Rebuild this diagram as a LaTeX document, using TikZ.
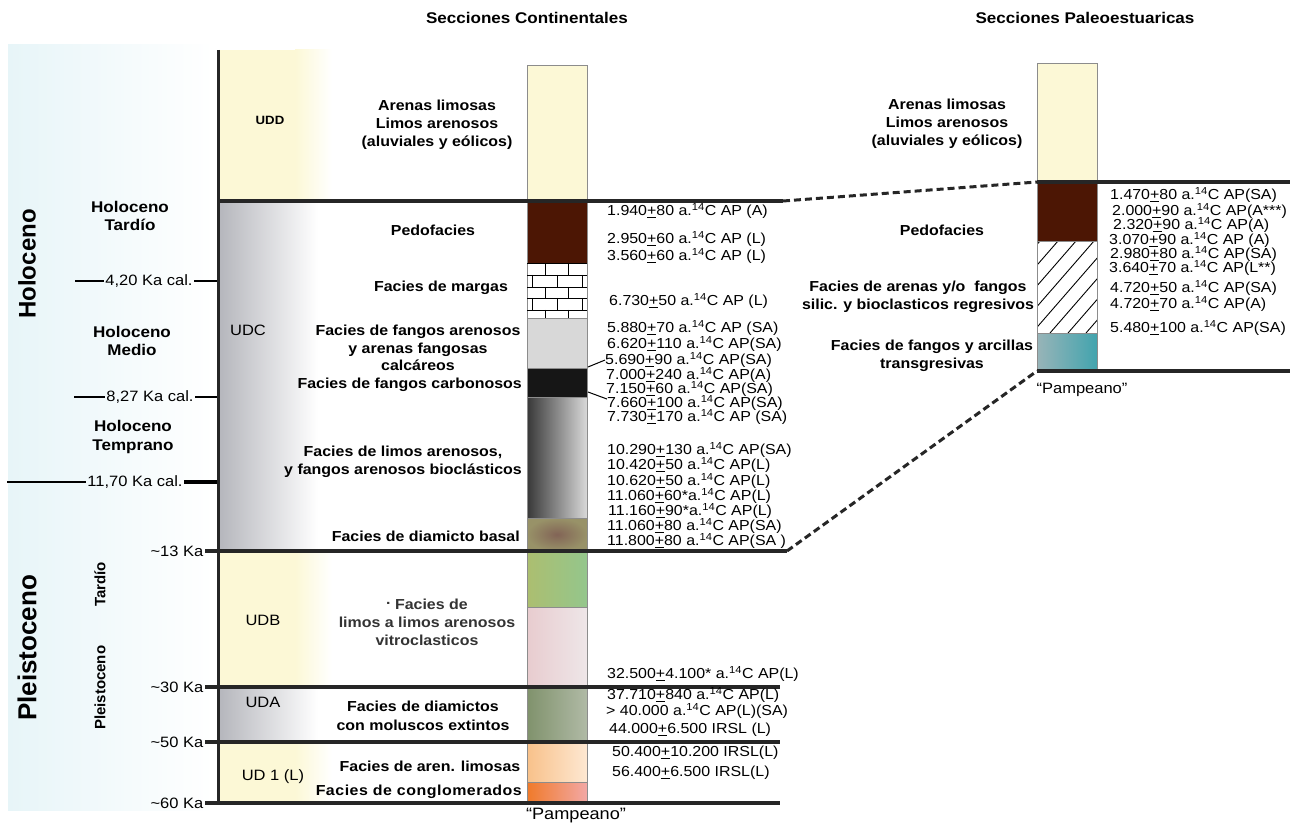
\documentclass[tikz,border=0pt]{standalone}
\usepackage{fontspec}
\setmainfont{Liberation Sans}[FakeStretch=1.1]
\newfontfamily\recta{Liberation Sans}
\usetikzlibrary{positioning, calc}

\definecolor{crema}{RGB}{252,248,214}
\definecolor{gris}{RGB}{182,183,189}
\definecolor{celeste}{RGB}{231,245,248}
\definecolor{pardo}{RGB}{76,22,4}
\definecolor{borde}{RGB}{140,140,140}
\definecolor{gclaro}{RGB}{216,216,216}
\definecolor{carbon}{RGB}{22,22,22}
\definecolor{oliva}{RGB}{152,146,104}
\definecolor{olivaC}{RGB}{130,100,86}
\definecolor{verdeA}{RGB}{172,190,112}
\definecolor{verdeB}{RGB}{148,198,140}
\definecolor{rosaA}{RGB}{232,204,207}
\definecolor{rosaB}{RGB}{238,230,232}
\definecolor{musgoA}{RGB}{128,146,108}
\definecolor{musgoB}{RGB}{176,186,166}
\definecolor{naranjaA}{RGB}{248,193,138}
\definecolor{naranjaB}{RGB}{254,232,210}
\definecolor{anaranA}{RGB}{240,122,42}
\definecolor{anaranB}{RGB}{242,168,165}
\definecolor{tealA}{RGB}{152,180,184}
\definecolor{tealB}{RGB}{66,164,174}

\newcommand{\pmu}{\underline{+}}
\newcommand{\ac}{a.\textsuperscript{14}C}

\tikzset{
  capa/.style={draw=borde, line width=0.8pt},
  ladrillo/.style={black, line width=0.9pt},
  limite/.style={line width=4pt, black!85},
  enlace/.style={line width=3pt, black!85, dash pattern=on 7pt off 4pt},
  facies/.style={font=\bfseries\fontsize{14.5}{18}\selectfont, align=center, inner sep=0pt},
  fecha/.style={font=\fontsize{14.5}{15}\selectfont, anchor=mid west, inner sep=0pt},
  edad/.style={font=\fontsize{15}{15}\selectfont, inner sep=1.5pt},
  periodo/.style={font=\bfseries\fontsize{15.5}{18.5}\selectfont, align=center, inner sep=0pt},
  unidad/.style={font=\fontsize{15}{15}\selectfont, inner sep=0pt},
  titulo/.style={font=\bfseries\fontsize{15.5}{16}\selectfont, inner sep=0pt},
}

\begin{document}
\begin{tikzpicture}[x=1pt, y=-1pt]
	\useasboundingbox (0,0) rectangle (1302,829);
	% background bands
	\shade[left color=celeste, right color=white] (8,45) rectangle (213,810);
	\foreach \ya/\yb in {50/201, 551/686, 741/803}{
		\fill[crema] (220,\ya) rectangle (295,\yb);
		\shade[left color=crema, right color=white] (295,\ya) rectangle (332,\yb);
	}
	\foreach \ya/\yb in {201/551, 686/741}{
		\shade[left color=gris, right color=white] (220,\ya) rectangle (318,\yb);
	}
	% continental column
	\draw[capa, fill=crema] (527,65) rectangle (587,201);
	\draw[capa, fill=pardo] (527,201) rectangle (587,263);
	\draw[capa, fill=white] (527,263) rectangle (587,318);
	\foreach \ya/\yb/\xs in {263/275/{545,568}, 275/287/{532,557,582}, 287/298/{545,568}, 298/310/{532,557,582}, 310/318/{545,568}}{
		\draw[ladrillo] (527,\yb) -- (587,\yb);
		\foreach \xv in \xs {\draw[ladrillo] (\xv,\ya) -- (\xv,\yb);}
	}
	\draw[ladrillo] (527,263) -- (587,263);
	\draw[capa, fill=gclaro] (527,318) rectangle (587,368);
	\draw[capa, fill=carbon] (527,368) rectangle (587,397);
	\draw[capa, left color=black!78, right color=black!15] (527,397) rectangle (587,518);
	\draw[capa, inner color=olivaC, outer color=oliva] (527,518) rectangle (587,551);
	\draw[capa, left color=verdeA, right color=verdeB] (527,551) rectangle (587,607);
	\draw[capa, left color=rosaA, right color=rosaB] (527,607) rectangle (587,686);
	\draw[capa, left color=musgoA, right color=musgoB] (527,686) rectangle (587,741);
	\draw[capa, left color=naranjaA, right color=naranjaB] (527,741) rectangle (587,782);
	\draw[capa, left color=anaranA, right color=anaranB] (527,782) rectangle (587,803);
	% paleoestuarine column
	\draw[capa, fill=crema] (1037,63) rectangle (1097,182);
	\draw[capa, fill=pardo] (1037,182) rectangle (1097,241);
	\begin{scope}
		\clip (1037,241) rectangle (1097,333);
		\foreach \xh in {960,978,...,1100}{
			\draw[black, line width=0.9pt] (\xh,333) -- ++(80,-92);
		}
	\end{scope}
	\draw[capa] (1037,241) rectangle (1097,333);
	\draw[capa, left color=tealA, right color=tealB] (1037,333) rectangle (1097,371);

	% titles
	\node[titulo] (tit1) at (527,18) {Secciones Continentales};
	\node[titulo] (tit2) at (1085,18) {Secciones Paleoestuaricas};

	% epochs
	\node[rotate=90, font=\recta\bfseries\fontsize{24}{24}\selectfont] (hol) at (27,264) {Holoceno};
	\node[rotate=90, font=\recta\bfseries\fontsize{26}{26}\selectfont] (ple) at (27,648) {Pleistoceno};
	\node[rotate=90, font=\recta\bfseries\fontsize{15}{15}\selectfont] (pleT) at (100,646) {Pleistoceno\hspace{39pt}Tardío};
	\node[periodo] (holT) at (130,216) {Holoceno\\Tardío};
	\node[periodo] (holM) at (132,341) {Holoceno\\Medio};
	\node[periodo] (holE) at (133,437) {Holoceno\\Temprano};

	% age ticks
	\node[edad] (k420) at (149,281) {4,20 Ka cal.};
	\node[edad] (k827) at (150,397) {8,27 Ka cal.};
	\node[edad] (k1170) at (135,482) {11,70 Ka cal.};
	\node[edad, anchor=east] (k13) at (205,551) {\textasciitilde13 Ka};
	\node[edad, anchor=east] (k30) at (205,687) {\textasciitilde30 Ka};
	\node[edad, anchor=east] (k50) at (205,742) {\textasciitilde50 Ka};
	\node[edad, anchor=east] (k60) at (205,803) {\textasciitilde60 Ka};
	\draw[line width=1.3pt] (75,281) -- (k420.west);
	\draw[line width=1.3pt] (k420.east) -- (218,281);
	\draw[line width=1.3pt] (74,397) -- (k827.west);
	\draw[line width=1.3pt] (k827.east) -- (218,397);
	\draw[line width=1.6pt] (7,482) -- (k1170.west);
	\draw[line width=3.5pt] (k1170.east) -- (218,482);

	% main axis and limits
	\draw[line width=3pt, black!85] (218,50) -- (218,805);
	\draw[limite] (218,201) -- (783,201);
	\draw[limite] (k13.east) -- (787,551);
	\draw[limite] (k30.east) -- (780,687);
	\draw[limite] (k50.east) -- (780,742);
	\draw[limite] (k60.east) -- (780,803);
	\draw[limite] (1037,182) -- (1290,182);
	\draw[limite] (1037,371) -- (1290,371);
	\draw[enlace] (783,201) -- (1037,182);
	\draw[enlace] (787,551) -- (1037,371);

	% units
	\node[unidad, font=\bfseries\fontsize{12}{12}\selectfont] (udd) at (270,120) {UDD};
	\node[unidad] (udc) at (248,330) {UDC};
	\node[unidad] (udb) at (263,620) {UDB};
	\node[unidad] (uda) at (263,702) {UDA};
	\node[unidad] (ud1) at (273,777) {UD 1 (L)};

	% continental facies
	\node[facies] (fSup) at (437,125) {Arenas limosas\\Limos arenosos\\(aluviales y eólicos)};
	\node[facies] (fPedo) at (433,230) {Pedofacies};
	\node[facies] (fMarg) at (441,288) {Facies de margas};
	\node[facies, font=\bfseries\fontsize{14.5}{17.5}\selectfont] (fFang) at (418,348) {Facies de fangos arenosos\\y arenas fangosas\\calcáreos};
	\node[facies, anchor=east] (fCarb) at (522,385) {Facies de fangos carbonosos};
	\node[facies] (fLimo) at (403,462) {Facies de limos arenosos,\\y fangos arenosos bioclásticos};
	\node[facies, anchor=east] (fDiam) at (520,536) {Facies de diamicto basal};
	\node[facies, text=black!80] (fVitr) at (427,622) {\raisebox{0.6ex}{.} Facies de\\limos a limos arenosos\\vitroclasticos};
	\node[facies, font=\bfseries\fontsize{14.5}{19}\selectfont] (fMolu) at (423,716) {Facies de diamictos\\con moluscos extintos};
	\node[facies] (fAren) at (430,766) {Facies de aren. limosas};
	\node[facies, anchor=east, font=\bfseries\fontsize{14.5}{18}\selectfont\addfontfeature{LetterSpace=3.5}] (fCong) at (522,792) {Facies de conglomerados};

	% paleoestuarine facies
	\node[facies] (gSup) at (947,124) {Arenas limosas\\Limos arenosos\\(aluviales y eólicos)};
	\node[facies] (gPedo) at (942,230) {Pedofacies};
	\node[facies] (gAren) at (918,297) {Facies de arenas y/o\ \ fangos\\silic. y bioclasticos regresivos};
	\node[facies] (gFang) at (932,356) {Facies de fangos y arcillas\\transgresivas};

	% dates
	\foreach \x/\y/\t [count=\i] in {
		607/213/{1.940\pmu80 \ac{} AP (A)},
		607/241/{2.950\pmu60 \ac{} AP (L)},
		607/258/{3.560\pmu60 \ac{} AP (L)},
		609/303/{6.730\pmu50 \ac{} AP (L)},
		607/330/{5.880\pmu70 \ac{} AP (SA)},
		607/346/{6.620\pmu110 \ac{} AP(SA)},
		605/362/{5.690\pmu90 \ac{} AP(SA)},
		606/377/{7.000\pmu240 \ac{} AP(A)},
		606/391/{7.150\pmu60 \ac{} AP(SA)},
		607/405/{7.660\pmu100 \ac{} AP(SA)},
		607/419/{7.730\pmu170 \ac{} AP (SA)},
		607/452/{10.290\pmu130 \ac{} AP(SA)},
		607/467/{10.420\pmu50 \ac{} AP(L)},
		607/483/{10.620\pmu50 \ac{} AP(L)},
		607/498/{11.060\pmu60*\ac{} AP(L)},
		608/513/{11.160\pmu90*\ac{} AP(L)},
		607/528/{11.060\pmu80 \ac{} AP(SA)},
		607/543/{11.800\pmu80 \ac{} AP(SA )},
		607/676/{32.500\pmu4.100* \ac{} AP(L)},
		607/697/{37.710\pmu840 \ac{} AP(L)},
		606/713/{> 40.000 \ac{} AP(L)(SA)},
		609/731/{44.000\pmu6.500 IRSL (L)},
		612/754/{50.400\pmu10.200 IRSL(L)},
		612/774/{56.400\pmu6.500 IRSL(L)}}{
		\node[fecha] (fl\i) at (\x,\y) {\t};
	}
	\draw[line width=1pt] (588,367) -- (fl7.west);
	\draw[line width=1pt] (588,392) -- ($(fl10.west)+(0,-4)$);
	\foreach \x/\y/\t [count=\i] in {
		1110/197/{1.470\pmu80 \ac{} AP(SA)},
		1112/213/{2.000\pmu90 \ac{} AP(A***)},
		1113/227/{2.320\pmu90 \ac{} AP(A)},
		1109/242/{3.070\pmu90 \ac{} AP (A)},
		1110/256/{2.980\pmu80 \ac{} AP(SA)},
		1109/270/{3.640\pmu70 \ac{} AP(L**)},
		1110/290/{4.720\pmu50 \ac{} AP(SA)},
		1110/306/{4.720\pmu70 \ac{} AP(A)},
		1110/330/{5.480\pmu100 \ac{} AP(SA)}}{
		\node[fecha] (gl\i) at (\x,\y) {\t};
	}

	% base labels
	\node[font=\fontsize{16.5}{16.5}\selectfont] (pam1) at (576,816) {“Pampeano”};
	\node[font=\fontsize{15}{15}\selectfont] (pam2) at (1082,390) {“Pampeano”};
\end{tikzpicture}
\end{document}
